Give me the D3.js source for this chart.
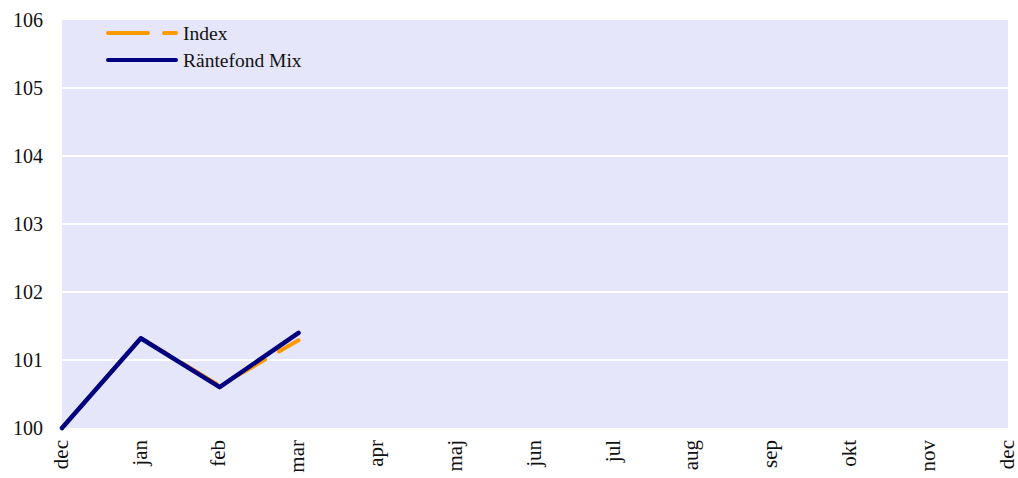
<!DOCTYPE html>
<html>
<head>
<meta charset="utf-8">
<script src="https://cdn.jsdelivr.net/npm/d3@7"></script>
<style>
  body { margin: 0; background: #fff; }
  text { font-family: "Liberation Serif", "DejaVu Serif", serif; fill: #111; }
</style>
</head>
<body>
<div id="graph"></div>
<script>
// data
var months = ["dec", "jan", "feb", "mar", "apr", "maj", "jun", "jul", "aug", "sep", "okt", "nov", "dec"];
var indexValues = [100, 101.32, 100.62, 101.29];
var mixValues = [100, 101.32, 100.60, 101.40];
var yTicks = [100, 101, 102, 103, 104, 105, 106];

var margin = { top: 20, right: 10, bottom: 50, left: 62 },
  width = 1018 - margin.left - margin.right,
  height = 478 - margin.top - margin.bottom;

var svg = d3.select("#graph")
  .append("svg")
  .attr("width", 1018)
  .attr("height", 478)
  .append("g")
  .attr("transform", "translate(" + margin.left + "," + margin.top + ")");

var x = d3.scaleLinear().domain([0, months.length - 1]).range([0, width]);
var y = d3.scaleLinear().domain([100, 106]).range([height, 0]);

// plot background
svg.append("rect")
  .attr("width", width)
  .attr("height", height)
  .attr("fill", "#e6e6fa");

// gridlines
svg.selectAll(".grid")
  .data(yTicks.slice(1, -1))
  .enter()
  .append("line")
  .attr("x1", 0)
  .attr("x2", width)
  .attr("y1", function(d) { return y(d); })
  .attr("y2", function(d) { return y(d); })
  .attr("stroke", "#fff")
  .attr("stroke-width", 2);

// y axis
var yAxis = svg.append("g")
  .call(d3.axisLeft(y).tickValues(yTicks).tickFormat(d3.format("d")).tickSize(0).tickPadding(19));
yAxis.select(".domain").remove();
yAxis.selectAll("text")
  .style("font-size", "20px")
  .style("font-family", "Liberation Serif, serif")
  .attr("fill", "#111");

// x axis
var xAxis = svg.append("g")
  .attr("transform", "translate(0," + height + ")")
  .call(d3.axisBottom(x).tickValues(d3.range(months.length)).tickFormat(function(i) { return months[i]; }).tickSize(0));
xAxis.select(".domain").remove();
xAxis.selectAll("text")
  .style("font-size", "21px")
  .style("font-family", "Liberation Serif, serif")
  .attr("fill", "#111")
  .attr("text-anchor", "end")
  .attr("dy", "0.25em")
  .attr("transform", "translate(0,12) rotate(-90)")
  .attr("x", 0)
  .attr("y", 0);

var line = d3.line()
  .x(function(d, i) { return x(i); })
  .y(function(d) { return y(d); });

svg.append("path")
  .datum(indexValues)
  .attr("fill", "none")
  .attr("stroke", "#ff9900")
  .attr("stroke-width", 4)
  .attr("stroke-dasharray", "40,16")
  .attr("stroke-linecap", "round")
  .attr("d", line);

svg.append("path")
  .datum(mixValues)
  .attr("fill", "none")
  .attr("stroke", "#000080")
  .attr("stroke-width", 4.5)
  .attr("stroke-linecap", "round")
  .attr("stroke-linejoin", "round")
  .attr("d", line);

// legend
var legend = [
  { name: "Index", color: "#ff9900", dash: "40,16" },
  { name: "Räntefond Mix", color: "#000080", dash: null }
];
var lg = svg.selectAll(".legend")
  .data(legend)
  .enter()
  .append("g")
  .attr("transform", function(d, i) { return "translate(46," + (13 + i * 27) + ")"; });
lg.append("line")
  .attr("x1", 0)
  .attr("x2", 68)
  .attr("stroke", function(d) { return d.color; })
  .attr("stroke-width", 4)
  .attr("stroke-linecap", "round")
  .attr("stroke-dasharray", function(d) { return d.dash; });
lg.append("text")
  .attr("x", 75)
  .attr("dy", "0.35em")
  .style("font-size", "19.5px")
  .text(function(d) { return d.name; });
</script>
</body>
</html>
